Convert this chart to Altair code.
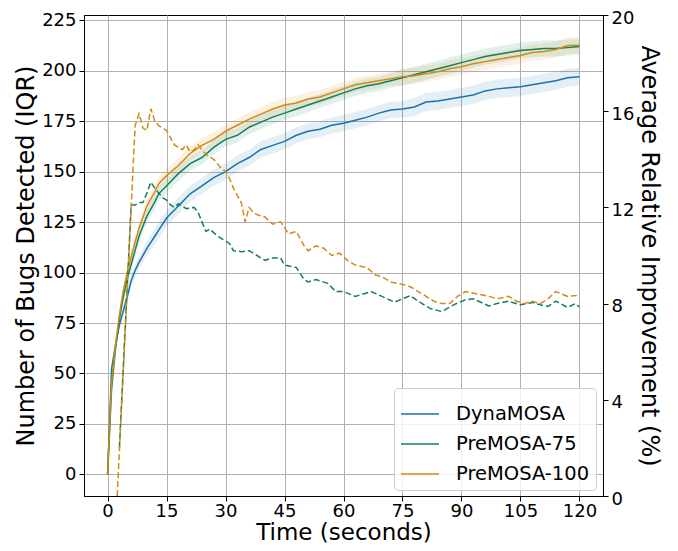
import altair as alt
import pandas as pd

# ---- data ----
series_names = ["DynaMOSA", "PreMOSA-75", "PreMOSA-100"]
series_colors = ["#1a72ad", "#11805a", "#d38a14"]

t_solid = [0, 1, 2, 3, 4, 5, 6, 7, 8, 10, 12, 13, 15, 18, 21, 24, 27, 30, 33, 36,
           39, 42, 45, 48, 51, 54, 57, 60, 63, 66, 69, 72, 75, 78, 81, 84, 87, 90,
           93, 96, 99, 102, 105, 108, 111, 114, 117, 120]

dyna_med = [0, 52, 64, 74, 81, 88, 96, 101, 105, 112, 118, 121, 127, 133, 139, 143,
            147, 150, 154, 157, 161, 163, 165, 168, 170, 171, 173, 174, 175.5, 177,
            179, 180.5, 181, 182, 184.5, 185, 186, 187, 188, 190, 191, 191.5, 192,
            193, 194, 195, 196.5, 197]
pre75_med = [0, 42, 62, 77, 88, 97, 104, 111, 118, 128, 135, 139, 143, 149, 154, 157,
             162, 166, 168, 172, 174.5, 177, 179, 181, 183, 185, 187, 189, 191, 192.5,
             193.5, 195, 196.5, 198, 199.5, 201, 202.5, 204, 205.5, 207, 208, 209,
             210, 210.5, 211, 211, 211.5, 212]
pre100_med = [0, 45, 64, 79, 91, 100, 108, 115, 122, 133, 140, 144, 148, 153, 159, 163,
              166, 170, 173, 176, 178.5, 181, 183, 184, 186, 187, 189, 191, 193, 194,
              195, 196, 197, 197.5, 198.5, 199.5, 201, 202, 203.5, 204.5, 205.5, 206.5,
              207.5, 209, 209.5, 210.5, 212.5, 212.6]

# half of the IQR band around each median
dyna_half = [0, 1, 2, 2, 2.5, 3, 3, 3, 3, 3.5, 4, 4, 4, 4, 4, 4, 4, 4, 4, 4, 4, 4, 4,
             4, 4, 4, 4, 4, 4, 4, 4, 4, 4, 4.5, 4.5, 4.5, 4.5, 4.5, 4.5, 4.5, 4.5, 4.5,
             4.5, 4.5, 4.5, 4.5, 4.5, 4.5]
pre75_half = [0, 1, 2, 2, 2.5, 3, 3, 3, 3, 3.5, 3.5, 3.5, 3.5, 3.5, 3.5, 3.5, 3.5, 3.5,
              3.5, 3.5, 3.5, 3.5, 3.5, 3.5, 3.5, 3.5, 3.5, 3.5, 3.5, 3.5, 3.5, 3.5, 4,
              4, 4, 4, 4, 4, 4, 4, 4, 4, 4, 4, 4, 4, 4, 4]
pre100_half = [0, 1, 2, 2, 2.5, 3, 3, 3, 3, 3.5, 3.5, 3.5, 3.5, 3.5, 3.5, 3.5, 3.5, 3.5,
               3.5, 3.5, 3.5, 3.5, 3.5, 3.5, 3.5, 3.5, 3.5, 3.5, 3.5, 3.5, 3.5, 3.5, 4,
               4, 4, 4, 4, 4, 4, 4, 4, 4, 4, 4, 4, 4, 4, 4]

t_rel100 = [2, 7, 8, 9, 10, 11, 12, 13, 14, 15, 16, 17, 18, 19, 20, 21, 22, 23, 24, 25,
            27, 29, 30, 31, 32, 33, 34, 35, 36, 37, 38, 40, 42, 44, 46, 48, 50, 51, 53,
            55, 57, 59, 61, 63, 66, 68, 70, 72, 75, 77, 79, 81, 83, 85, 87, 89, 91, 94,
            97, 99, 102, 104, 106, 108, 110, 112, 114, 117, 120]
rel100 = [-1.5, 15.4, 15.9, 15.3, 15.2, 16.1, 15.6, 15.4, 15.3, 15.2, 14.9, 14.6, 14.5,
          14.4, 14.6, 14.3, 14.4, 14.6, 14.4, 14.2, 14.0, 13.6, 13.5, 13.2, 12.8, 12.5,
          12.2, 11.4, 12.0, 11.8, 11.7, 11.6, 11.3, 11.4, 10.9, 11.0, 10.4, 10.2, 10.4,
          10.3, 10.0, 10.1, 9.8, 9.6, 9.5, 9.2, 9.1, 8.9, 8.8, 8.7, 8.5, 8.3, 8.1, 8.0,
          8.0, 8.3, 8.5, 8.4, 8.3, 8.2, 8.3, 8.1, 8.0, 8.1, 8.0, 8.2, 8.5, 8.3, 8.35]

t_rel75 = [3, 6, 7, 8, 9, 10, 11, 12, 13, 14, 15, 16, 17, 18, 20, 22, 23, 25, 26, 28,
           30, 31, 32, 34, 36, 38, 40, 42, 44, 45, 48, 50, 51, 53, 56, 58, 60, 63, 67,
           69, 73, 75, 77, 79, 82, 85, 88, 91, 93, 97, 99, 102, 105, 108, 110, 112,
           114, 117, 119, 120]
rel75 = [2.0, 12.1, 12.1, 12.2, 12.2, 12.6, 13.05, 12.8, 12.6, 12.4, 12.3, 12.1, 12.0,
         12.15, 11.95, 12.0, 11.8, 11.0, 11.1, 10.8, 10.6, 10.5, 10.2, 10.16, 10.2, 10.0,
         9.8, 9.9, 9.9, 9.6, 9.5, 9.0, 8.9, 9.0, 8.84, 8.5, 8.5, 8.3, 8.5, 8.36, 8.06,
         8.2, 8.33, 8.1, 7.8, 7.67, 7.95, 8.16, 8.2, 7.9, 8.0, 8.1, 7.95, 8.05, 7.95,
         7.88, 8.1, 7.84, 8.0, 7.86]

x_ticks = [0, 15, 30, 45, 60, 75, 90, 105, 120]
left_ticks = [0, 25, 50, 75, 100, 125, 150, 175, 200, 225]
right_ticks = [0, 4, 8, 12, 16, 20]

# ---- tables ----
rows = []
for name, med, half in [("DynaMOSA", dyna_med, dyna_half),
                        ("PreMOSA-75", pre75_med, pre75_half),
                        ("PreMOSA-100", pre100_med, pre100_half)]:
    for i, (t, m, h) in enumerate(zip(t_solid, med, half)):
        rows.append({"t": t, "series": name, "value": m, "lo": m - h, "hi": m + h,
                     "order": i})
solid_df = pd.DataFrame(rows)

rel_rows = []
for name, ts, vs in [("PreMOSA-75", t_rel75, rel75), ("PreMOSA-100", t_rel100, rel100)]:
    for i, (t, v) in enumerate(zip(ts, vs)):
        rel_rows.append({"t": t, "series": name, "rel": v, "order": i})
rel_df = pd.DataFrame(rel_rows)

FONT = "DejaVu Sans"
x_enc = alt.X("t:Q", scale=alt.Scale(domain=[-6, 126], nice=False, zero=False),
              axis=alt.Axis(values=x_ticks, title="Time (seconds)", grid=True,
                            tickSize=5, labelPadding=1, titlePadding=1,
                            titleFontSize=23))

left_scale = alt.Scale(domain=[-10.7, 227.6], nice=False, zero=False)
left_axis = alt.Axis(values=left_ticks, title="Number of Bugs Detected (IQR)", grid=True,
                     tickSize=5, labelPadding=3, titlePadding=3)

# fill / stroke scales list the series in another order so that their (hidden)
# legends are not merged with the colour legend of the solid lines
bands = alt.Chart(solid_df).mark_area(opacity=0.12, clip=True).encode(
    x=x_enc,
    y=alt.Y("lo:Q", scale=left_scale, axis=left_axis),
    y2="hi:Q",
    fill=alt.Fill("series:N",
                  scale=alt.Scale(domain=series_names[::-1], range=series_colors[::-1]),
                  legend=None),
    detail="series:N",
)

lines = alt.Chart(solid_df).mark_line(strokeWidth=1.5, clip=True).encode(
    x=x_enc,
    y=alt.Y("value:Q", scale=left_scale, axis=left_axis),
    color=alt.Color("series:N",
                    scale=alt.Scale(domain=series_names, range=series_colors),
                    legend=alt.Legend(title=None, orient="none", legendX=310, legendY=373,
                                      symbolType="stroke", symbolSize=1444,
                                      symbolStrokeWidth=1.5, labelFontSize=19.5,
                                      labelFont=FONT, labelColor="black",
                                      labelOffset=16, rowPadding=-12.5, padding=6,
                                      fillColor="rgba(255,255,255,0.8)",
                                      strokeColor="#cccccc", cornerRadius=4)),
    order="order:Q",
)

left_layer = alt.layer(bands, lines)

dashed = alt.Chart(rel_df).mark_line(strokeWidth=1.5, strokeDash=[6, 3], clip=True).encode(
    x=x_enc,
    y=alt.Y("rel:Q", scale=alt.Scale(domain=[0, 20], nice=False, zero=False),
            axis=alt.Axis(values=right_ticks, orient="right", grid=False,
                          title="Average Relative Improvement (%)", tickSize=5,
                          labelPadding=3, titlePadding=3, labelOffset=3)),
    stroke=alt.Stroke("series:N",
                      scale=alt.Scale(domain=series_names[:0:-1],
                                      range=series_colors[:0:-1]),
                      legend=None),
    order="order:Q",
)

chart = alt.layer(left_layer, dashed).resolve_scale(y="independent").properties(
    width=519, height=481,
    padding={"left": 6, "top": 1, "right": 4, "bottom": 0},
).configure_view(
    stroke="black", strokeWidth=1
).configure_axis(
    labelFont=FONT, labelFontSize=18, labelColor="black",
    titleFont=FONT, titleFontSize=24, titleFontWeight="normal", titleColor="black",
    domainColor="black", tickColor="black", gridColor="#b0b0b0", gridWidth=1,
)

chart.save("out.html", embed_options={"renderer": "svg", "actions": False})
